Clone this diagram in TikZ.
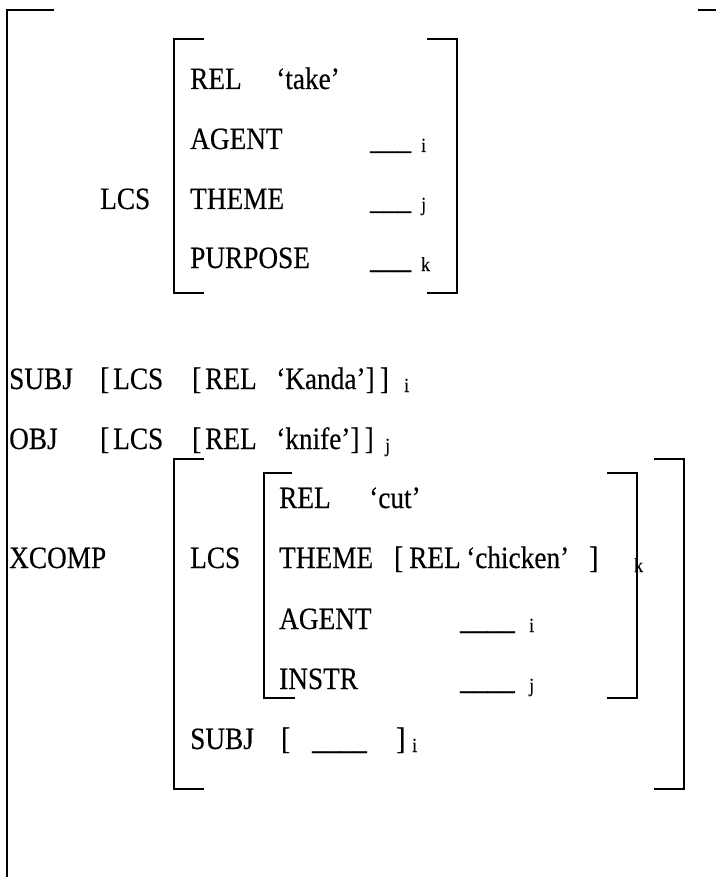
\documentclass[tikz,border=0pt]{standalone}
\usepackage{fontspec}
\setmainfont{Liberation Serif}[FakeStretch=0.88,FakeBold=0.3]
\begin{document}
\begin{tikzpicture}[x=1pt,y=-1pt,
  t/.style={anchor=base west,inner sep=0pt,font=\fontsize{31}{33}\selectfont},
  sb/.style={anchor=base west,inner sep=0pt,font=\fontsize{20}{21}\selectfont},
  br/.style={line width=2.5pt,line cap=butt,line join=miter}]
\useasboundingbox (0,0) rectangle (716,877);
% outer bracket
\draw[br] (54,10) -- (7,10) -- (7,877);
\draw[br] (698,10) -- (716,10);
% top LCS
\node[t] (lcs1) at (100,209) {LCS};
\draw[br] (204,39) -- (174,39) -- (174,293) -- (204,293);
\draw[br] (427,39) -- (457,39) -- (457,293) -- (427,293);
\node[t] (rel1) at (190,89) {REL};
\node[t] (take) at (276,89) {‘take’};
\node[t] (ag1) at (190,149) {AGENT};
\node[t] (bl1) at (370,149) {\_\_\_};
\node[sb] (s1) at (421,152) {i};
\node[t] (th1) at (190,209) {THEME};
\node[t] (bl2) at (370,209) {\_\_\_};
\node[sb] (s2) at (421,211) {j};
\node[t] (pu1) at (190,268) {PURPOSE};
\node[t] (bl3) at (370,268) {\_\_\_};
\node[sb] (s3) at (421,271) {k};
% SUBJ line
\node[t] (subj) at (9,389) {SUBJ};
\node[t] (sb1) at (100,389) {[};
\node[t] (sl1) at (113,389) {LCS};
\node[t] (sb2) at (192,389) {[};
\node[t] (sr1) at (205,389) {REL};
\node[t] (kan) at (276,389) {‘Kanda’]\,]};
\node[sb] (s4) at (404,392) {i};
% OBJ line
\node[t] (obj) at (9,449) {OBJ};
\node[t] (ob1) at (100,449) {[};
\node[t] (ol1) at (113,449) {LCS};
\node[t] (ob2) at (192,449) {[};
\node[t] (or1) at (205,449) {REL};
\node[t] (kni) at (276,449) {‘knife’]\,]};
\node[sb] (s5) at (385,452) {j};
% XCOMP
\node[t] (xc) at (9,568) {XCOMP};
\draw[br] (204,459) -- (174,459) -- (174,789) -- (204,789);
\draw[br] (654,459) -- (684,459) -- (684,789) -- (654,789);
\node[t] (lcs2) at (190,568) {LCS};
\draw[br] (292,473) -- (264,473) -- (264,698) -- (295,698);
\draw[br] (607,473) -- (637,473) -- (637,698) -- (607,698);
\node[t] (rel2) at (279,508) {REL};
\node[t] (cut) at (369,508) {‘cut’};
\node[t] (th2) at (279,568) {THEME};
\node[t] (cb1) at (394,568) {[};
\node[t] (cr) at (409,568) {REL};
\node[t] (chi) at (466,568) {‘chicken’};
\node[t] (cb2) at (589,568) {]};
\node[sb] (s6) at (634,572) {k};
\node[t] (ag2) at (279,629) {AGENT};
\node[t] (bl4) at (460,629) {\_\_\_\_};
\node[sb] (s7) at (529,632) {i};
\node[t] (in2) at (279,689) {INSTR};
\node[t] (bl5) at (460,689) {\_\_\_\_};
\node[sb] (s8) at (529,692) {j};
\node[t] (subj2) at (190,749) {SUBJ};
\node[t] (qb1) at (281,749) {[};
\node[t] (bl6) at (312,749) {\_\_\_\_};
\node[t] (qb2) at (396,749) {]};
\node[sb] (s9) at (412,752) {i};
\end{tikzpicture}
\end{document}
